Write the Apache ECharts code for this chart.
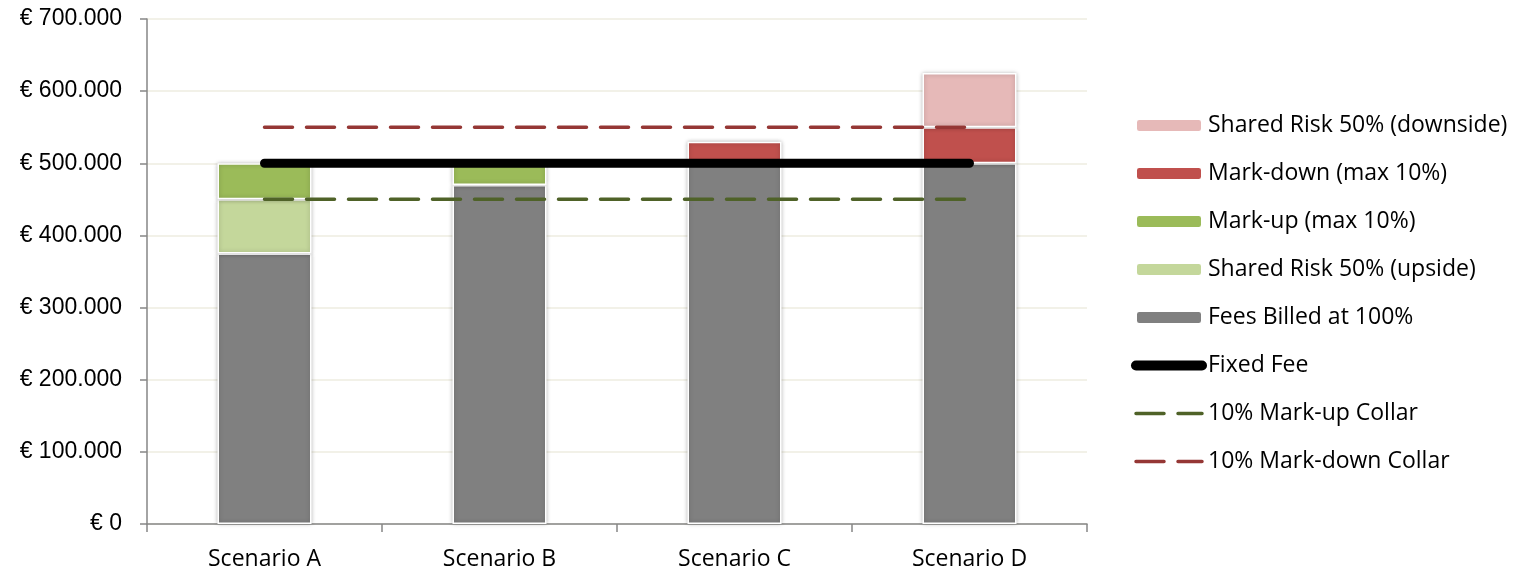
<!DOCTYPE html>
<html>
<head>
<meta charset="utf-8">
<script src="https://cdn.jsdelivr.net/npm/echarts@6/dist/echarts.min.js"></script>
<style>
  html, body { margin: 0; padding: 0; background: #fff; }
  #chart { width: 1530px; height: 571px; }
</style>
</head>
<body>
<div id="chart"></div>
<script>
// Fee arrangement scenarios (values in euro)
const categories = ['Scenario A', 'Scenario B', 'Scenario C', 'Scenario D'];
const feesBilled      = [375000, 470000, 500000, 500000];
const sharedUpside    = [75000, null, null, null];
const markUp          = [50000, 30000, null, null];
const markDown        = [null, null, 30000, 50000];
const sharedDownside  = [null, null, null, 75000];
const fixedFee        = [500000, 500000, 500000, 500000];
const markUpCollar    = [450000, 450000, 450000, 450000];
const markDownCollar  = [550000, 550000, 550000, 550000];
const yTicks = { min: 0, max: 700000, interval: 100000 };

const chart = echarts.init(document.getElementById('chart'), null, { renderer: 'canvas' });

const euro = v => '€ ' + String(v).replace(/\B(?=(\d{3})+(?!\d))/g, '.');

const barStyle = color => ({
  color: color,
  borderColor: '#ffffff',
  borderWidth: 1.5,
  shadowColor: 'rgba(0,0,0,0.25)',
  shadowBlur: 4
});

const bar = (name, data, color) => ({
  name, type: 'bar', stack: 'fees', data,
  barWidth: 94,
  itemStyle: barStyle(color),
  emphasis: { disabled: true }
});

const line = (name, data, color, width, type) => ({
  name, type: 'line', data,
  symbol: 'none',
  lineStyle: { color, width, type, cap: 'round' },
  itemStyle: { color },
  z: 5,
  emphasis: { disabled: true }
});

// Legend entries for the line series: only the stroke, no point marker
const lineLegend = (name, width) => ({
  name,
  itemStyle: { opacity: 0 },
  lineStyle: { width, cap: 'round' }
});

chart.setOption({
  animation: false,
  textStyle: { fontFamily: 'Open Sans' },
  grid: { left: 147, right: 443, top: 19, bottom: 46, containLabel: false },
  xAxis: {
    type: 'category',
    data: categories,
    axisLine: { lineStyle: { color: '#868686', width: 1.5 } },
    axisTick: { show: true, length: 8, lineStyle: { color: '#868686', width: 1.5 } },
    axisLabel: { color: '#000', fontSize: 23, fontFamily: 'Open Sans', margin: 24 }
  },
  yAxis: {
    type: 'value',
    min: yTicks.min, max: yTicks.max, interval: yTicks.interval,
    axisLine: { show: true, lineStyle: { color: '#868686', width: 1.5 } },
    axisTick: { show: true, length: 7, lineStyle: { color: '#868686', width: 1.5 } },
    splitLine: { lineStyle: { color: '#EEECE1', width: 1.5 } },
    axisLabel: {
      color: '#000', fontSize: 23, fontFamily: 'Liberation Sans', margin: 25,
      formatter: euro
    }
  },
  legend: {
    orient: 'vertical',
    left: 1131,
    top: 114,
    padding: 0,
    itemWidth: 66,
    itemHeight: 13,
    itemGap: 25,
    textStyle: { color: '#000', fontSize: 23, fontFamily: 'Open Sans', padding: [0, 0, 0, 1] },
    data: [
      'Shared Risk 50% (downside)',
      'Mark-down (max 10%)',
      'Mark-up (max 10%)',
      'Shared Risk 50% (upside)',
      'Fees Billed at 100%',
      lineLegend('Fixed Fee', 10),
      lineLegend('10% Mark-up Collar', 3.5),
      lineLegend('10% Mark-down Collar', 3.5)
    ]
  },
  series: [
    bar('Fees Billed at 100%', feesBilled, '#808080'),
    bar('Shared Risk 50% (upside)', sharedUpside, '#C4D79B'),
    bar('Mark-up (max 10%)', markUp, '#9BBB59'),
    bar('Mark-down (max 10%)', markDown, '#C0504D'),
    bar('Shared Risk 50% (downside)', sharedDownside, '#E6B9B8'),
    line('Fixed Fee', fixedFee, '#000000', 9, 'solid'),
    line('10% Mark-up Collar', markUpCollar, '#4F6228', 3.5, [28, 14]),
    line('10% Mark-down Collar', markDownCollar, '#953735', 3.5, [28, 14])
  ]
});
</script>
</body>
</html>
